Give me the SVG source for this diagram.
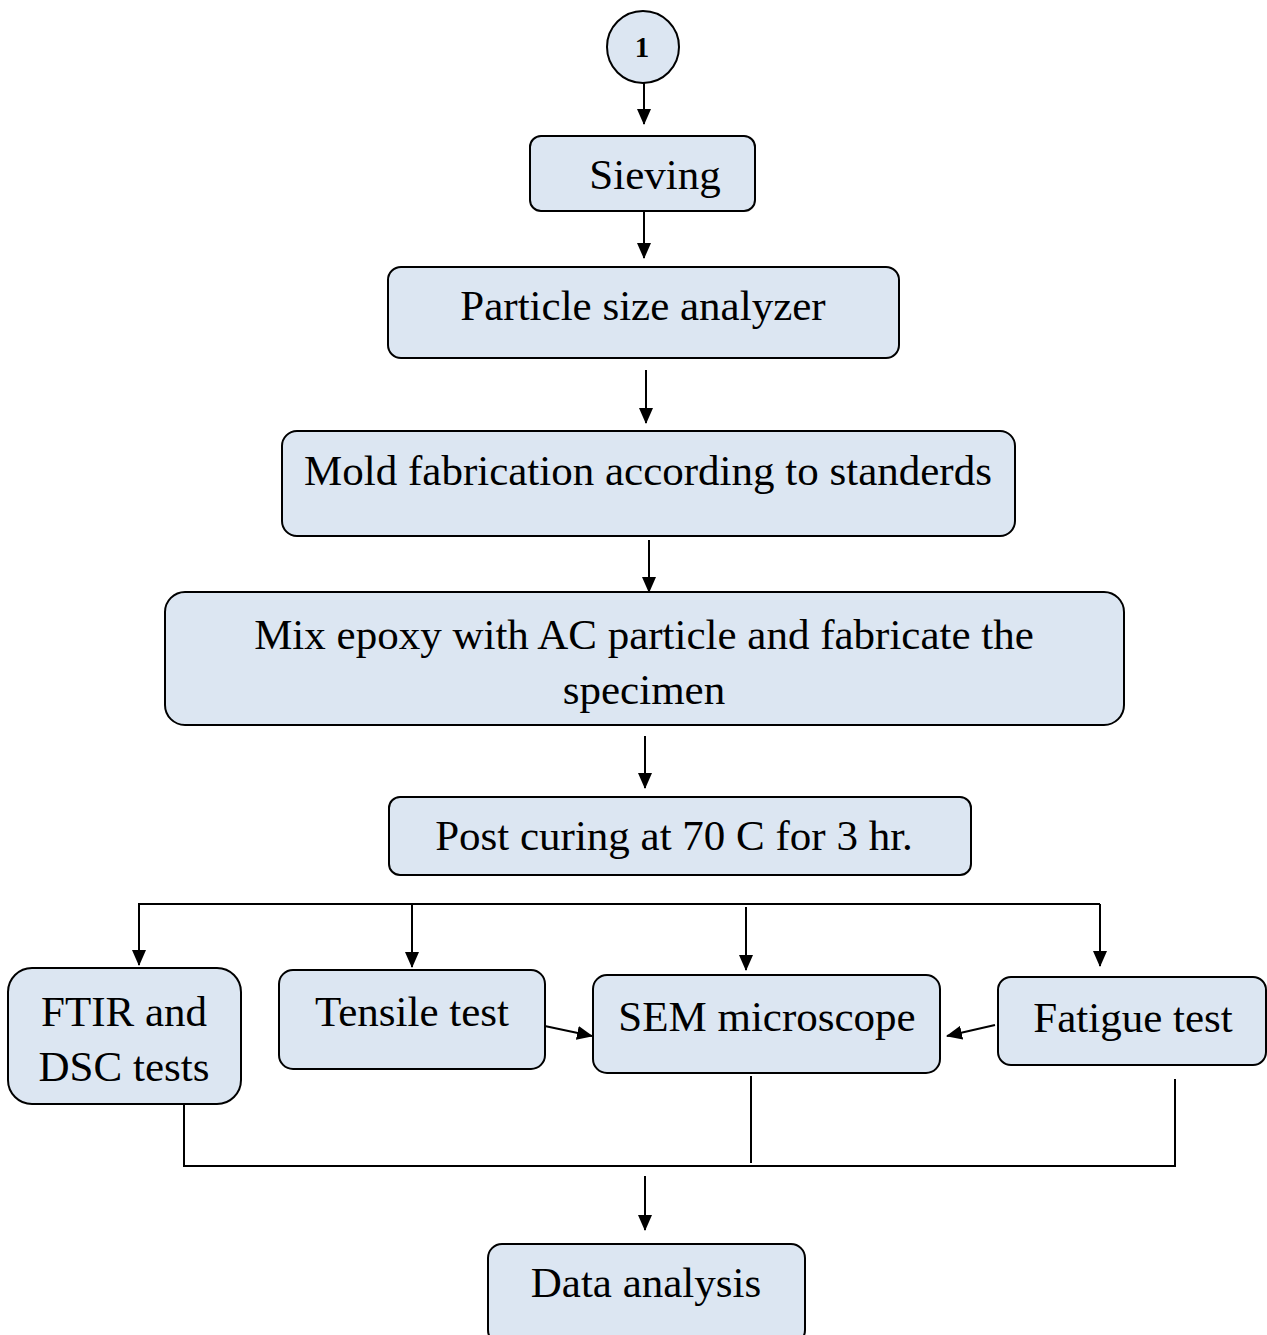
<svg xmlns="http://www.w3.org/2000/svg" width="1267" height="1335" viewBox="0 0 1267 1335">
<style>
.box{fill:#dce6f2;stroke:#000;stroke-width:2}
.t{font-family:"Liberation Serif","Times New Roman",serif;font-size:43px;fill:#000;text-anchor:middle}
.c{stroke:#000;stroke-width:2;fill:none}
</style>
<defs>
<marker id="ah" markerWidth="16" markerHeight="14" viewBox="0 0 16 14" refX="15" refY="7" orient="auto" markerUnits="userSpaceOnUse">
<path d="M0,0 L16,7 L0,14 Z" fill="#000"/>
</marker>
</defs>
<rect width="1267" height="1335" fill="#fff"/>
<g id="connectors">
<line class="c" x1="644" y1="83" x2="644" y2="124" marker-end="url(#ah)"/>
<line class="c" x1="644" y1="205" x2="644" y2="258" marker-end="url(#ah)"/>
<line class="c" x1="646" y1="370" x2="646" y2="423" marker-end="url(#ah)"/>
<line class="c" x1="649" y1="540" x2="649" y2="592" marker-end="url(#ah)"/>
<line class="c" x1="645" y1="736" x2="645" y2="788" marker-end="url(#ah)"/>
<line class="c" x1="138" y1="904" x2="1100" y2="904"/>
<line class="c" x1="139" y1="904" x2="139" y2="965" marker-end="url(#ah)"/>
<line class="c" x1="412" y1="904" x2="412" y2="967" marker-end="url(#ah)"/>
<line class="c" x1="746" y1="907" x2="746" y2="970" marker-end="url(#ah)"/>
<line class="c" x1="1100" y1="904" x2="1100" y2="966" marker-end="url(#ah)"/>
<line class="c" x1="540" y1="1025" x2="592" y2="1036" marker-end="url(#ah)"/>
<line class="c" x1="995" y1="1025" x2="947" y2="1036" marker-end="url(#ah)"/>
<line class="c" x1="184" y1="1100" x2="184" y2="1166"/>
<line class="c" x1="751" y1="1076" x2="751" y2="1163"/>
<line class="c" x1="1175" y1="1079" x2="1175" y2="1166"/>
<line class="c" x1="183" y1="1166" x2="1176" y2="1166"/>
<line class="c" x1="645" y1="1176" x2="645" y2="1230" marker-end="url(#ah)"/>
</g>
<g id="n1"><circle class="box" cx="643" cy="47" r="36"/><text x="642" y="57" class="t" style="font-size:29px;font-weight:bold">1</text></g>
<g id="sieving"><rect class="box" x="530" y="136" width="225" height="75" rx="11"/><text class="t" x="655" y="189">Sieving</text></g>
<g id="psa"><rect class="box" x="388" y="267" width="511" height="91" rx="13"/><text class="t" x="643" y="320">Particle size analyzer</text></g>
<g id="mold"><rect class="box" x="282" y="431" width="733" height="105" rx="15"/><text class="t" x="648" y="485">Mold fabrication according to standerds</text></g>
<g id="mix"><rect class="box" x="165" y="592" width="959" height="133" rx="20"/><text class="t" x="644" y="649">Mix epoxy with AC particle and fabricate the</text><text class="t" x="644" y="704">specimen</text></g>
<g id="post"><rect class="box" x="389" y="797" width="582" height="78" rx="11"/><text class="t" x="674" y="850">Post curing at 70 C for 3 hr.</text></g>
<g id="ftir"><rect class="box" x="8" y="968" width="233" height="136" rx="24"/><text class="t" x="124" y="1026">FTIR and</text><text class="t" x="124" y="1081">DSC tests</text></g>
<g id="tensile"><rect class="box" x="279" y="970" width="266" height="99" rx="14"/><text class="t" x="412" y="1026">Tensile test</text></g>
<g id="sem"><rect class="box" x="593" y="975" width="347" height="98" rx="14"/><text class="t" x="767" y="1031">SEM microscope</text></g>
<g id="fatigue"><rect class="box" x="998" y="977" width="268" height="88" rx="13"/><text class="t" x="1133" y="1032">Fatigue test</text></g>
<g id="data"><rect class="box" x="488" y="1244" width="317" height="100" rx="14"/><text class="t" x="646" y="1297">Data analysis</text></g>
</svg>
